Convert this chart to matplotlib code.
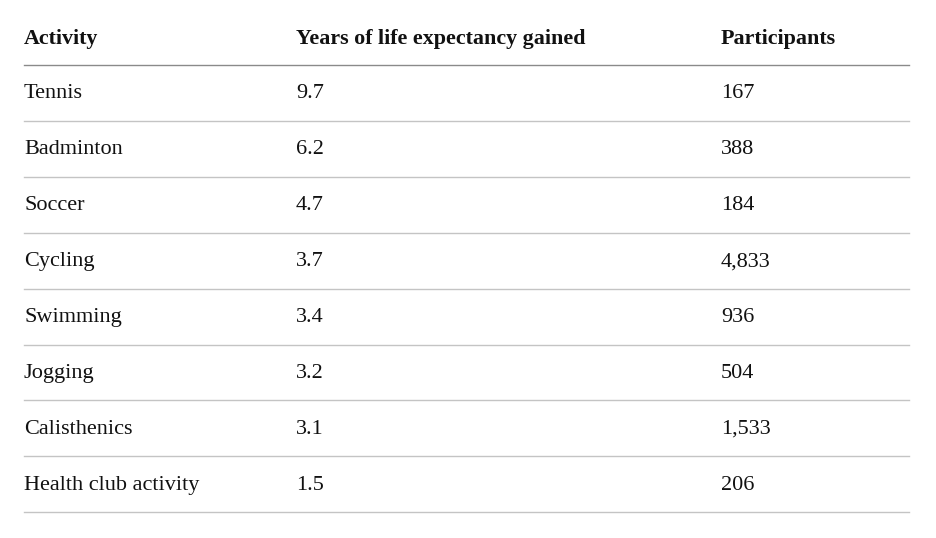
import matplotlib.pyplot as plt

# table data
columns = ['Activity', 'Years of life expectancy gained', 'Participants']
activities = ['Tennis', 'Badminton', 'Soccer', 'Cycling', 'Swimming',
              'Jogging', 'Calisthenics', 'Health club activity']
years_gained = [9.7, 6.2, 4.7, 3.7, 3.4, 3.2, 3.1, 1.5]
participants = [167, 388, 184, 4833, 936, 504, 1533, 206]

W, H = 936, 538
col_x = [24, 296, 721]
x_left, x_right = 24, 909
header_y = 39
header_line = 65
row_h = 55.9

fig = plt.figure(figsize=(W / 100, H / 100), dpi=100)
ax = fig.add_axes([0, 0, 1, 1])
ax.set_xlim(0, W)
ax.set_ylim(H, 0)
ax.axis('off')

font = 'Liberation Serif'

for x, name in zip(col_x, columns):
    ax.text(x, header_y, name, fontsize=15.8, fontweight='bold', family=font,
            color='#111111', va='center', ha='left')
ax.plot([x_left, x_right], [header_line, header_line], color='#8a8a8a', lw=1)

for i, (act, yrs, n) in enumerate(zip(activities, years_gained, participants)):
    top = header_line + i * row_h
    yc = top + 29
    cells = [act, f'{yrs:.1f}', f'{n:,}']
    for x, val in zip(col_x, cells):
        ax.text(x, yc, val, fontsize=16, family=font, color='#111111',
                va='center', ha='left')
    bottom = top + row_h
    ax.plot([x_left, x_right], [bottom, bottom], color='#c4c4c4', lw=1)

fig.savefig('out.png', dpi=100)
